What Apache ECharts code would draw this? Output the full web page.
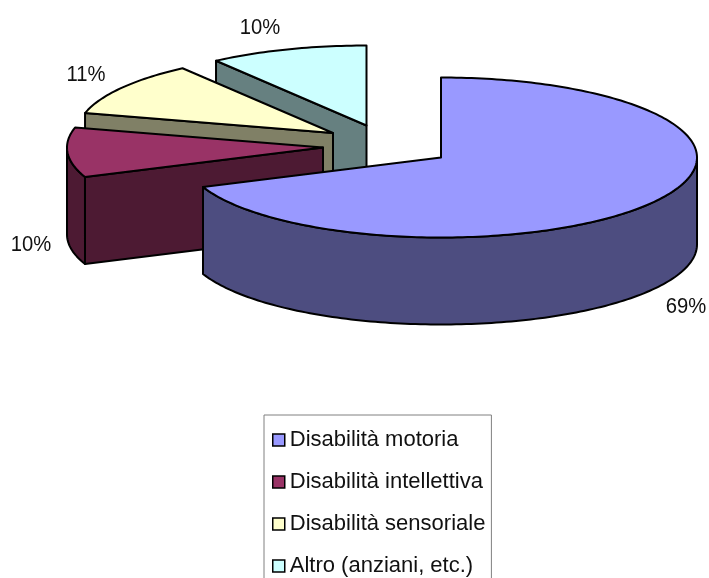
<!DOCTYPE html>
<html>
<head>
<meta charset="utf-8">
<style>html,body{margin:0;padding:0;background:#fff;overflow:hidden}#c{width:709px;height:578px}</style>
<script src="https://cdn.jsdelivr.net/npm/echarts@6/dist/echarts.min.js"></script>
</head>
<body>
<div id="c"></div>
<script>
var categories = ['Disabilità motoria', 'Disabilità intellettiva', 'Disabilità sensoriale', 'Altro (anziani, etc.)'];
var values = [69, 10, 11, 10];
var topColors = ['#9999FF', '#993366', '#FFFFCC', '#CCFFFF'];
var sideColors = ['#4D4D80', '#4D1A33', '#808066', '#668080'];

// Drawing geometry of the tilted, exploded pie
var centers = [[441, 157.5], [323, 147.5], [333, 133], [366.5, 125.5]];
var labelAt = [[686, 307], [31, 245], [86, 75], [260, 28]];
var RX = 256, RY = 80, DEPTH = 87;
var total = values.reduce(function (a, b) { return a + b; }, 0);

function pt(c, t, dy) {
  return [c[0] + RX * Math.sin(t), c[1] - RY * Math.cos(t) + (dy || 0)];
}
function arc(c, a, b, dy) {
  var pts = [], n = Math.max(2, Math.ceil(Math.abs(b - a) / 0.02));
  for (var i = 0; i <= n; i++) pts.push(pt(c, a + (b - a) * i / n, dy));
  return pts;
}
function poly(points, fill) {
  return { type: 'polygon', shape: { points: points },
    style: { fill: fill, stroke: '#000', lineWidth: 2, lineJoin: 'round' } };
}
function renderSlice(index) {
  return function (params, api) {
    var before = values.slice(0, index).reduce(function (a, b) { return a + b; }, 0);
    var v = api.value(0);
    var a = before / total * 2 * Math.PI, b = (before + v) / total * 2 * Math.PI;
    var c = centers[index], kids = [];
    // radial face at the start edge, visible when it turns towards the viewer
    if (Math.sin(a) < -1e-6) {
      var p = pt(c, a);
      kids.push(poly([p, c, [c[0], c[1] + DEPTH], [p[0], p[1] + DEPTH]], sideColors[index]));
    }
    // outer wall: only the front half of the rim
    var f0 = Math.max(a, Math.PI / 2), f1 = Math.min(b, 1.5 * Math.PI);
    if (f1 > f0) {
      kids.push(poly(arc(c, f0, f1, 0).concat(arc(c, f1, f0, DEPTH)), sideColors[index]));
    }
    // top face
    kids.push(poly([c].concat(arc(c, a, b, 0)), topColors[index]));
    // percentage label
    kids.push({ type: 'text', x: labelAt[index][0], y: labelAt[index][1], scaleX: 0.92, style: {
      text: Math.round(v / total * 100) + '%', x: 0, y: 0,
      fill: '#111', font: '22px "Liberation Sans", Arial, sans-serif', align: 'center', verticalAlign: 'middle' } });
    return { type: 'group', children: kids };
  };
}
// back slices first, the main slice last, so nearer ones cover farther ones
var drawOrder = [3, 2, 1, 0];
var series = drawOrder.map(function (i) {
  return { name: categories[i], type: 'custom', coordinateSystem: 'none',
    data: [[values[i]]], renderItem: renderSlice(i), itemStyle: { color: topColors[i] },
    animation: false, silent: true };
});
var chart = echarts.init(document.getElementById('c'), null, { renderer: 'canvas' });
chart.setOption({
  animation: false,
  backgroundColor: '#fff',
  series: series,
  legend: {
    orient: 'vertical', left: 264, top: 415, width: 227, height: 400,
    padding: [14, 6, 14, 8], itemGap: 20, itemWidth: 12, itemHeight: 12, icon: 'rect',
    backgroundColor: '#fff', borderColor: '#808080', borderWidth: 1, borderRadius: 0,
    selectedMode: false,
    textStyle: { color: '#111', fontSize: 22, fontFamily: '"Liberation Sans", Arial, sans-serif' },
    data: categories.map(function (n, i) {
      return { name: n, itemStyle: { color: topColors[i], borderColor: '#000', borderWidth: 1.5 } };
    })
  }
});
</script>
</body>
</html>
